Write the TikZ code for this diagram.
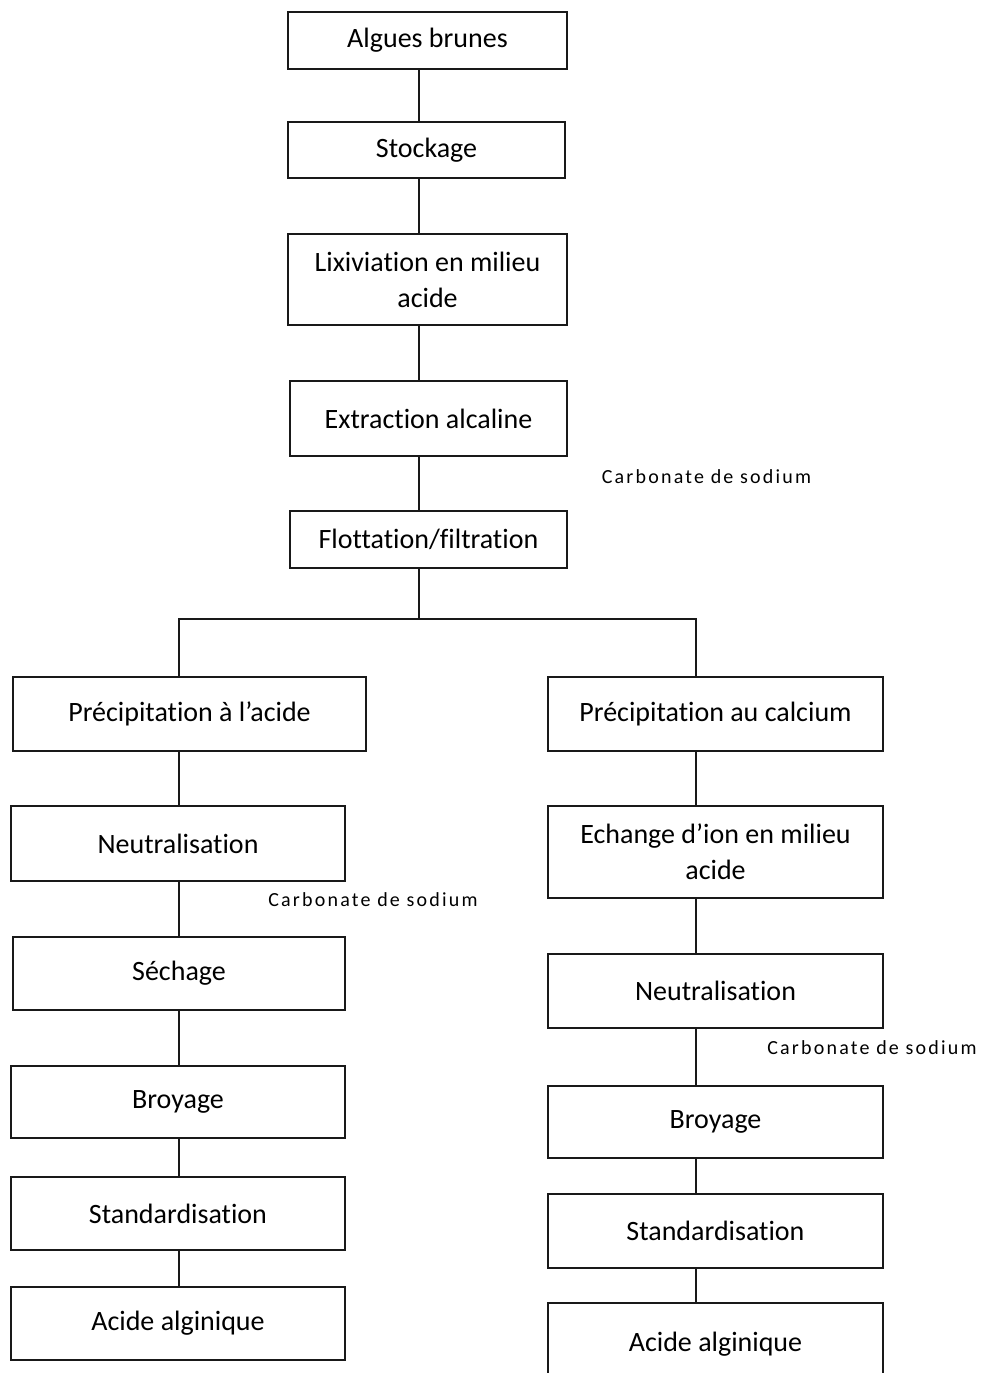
\documentclass[tikz,border=0pt]{standalone}
\usepackage{fontspec}
\setmainfont{Carlito}[Ligatures={TeX,NoCommon}]
\newfontfamily\notefont[LetterSpace=11,Ligatures={NoCommon}]{Carlito}

\begin{document}
\begin{tikzpicture}[x=0.5pt,y=-0.5pt,
  box/.style={draw=black!90,line width=1.2pt,align=center,inner sep=0pt,font=\fontsize{14}{18}\selectfont},
  link/.style={draw=black!90,line width=1.1pt},
  note/.style={font=\notefont\fontsize{10}{12}\selectfont,inner sep=0pt}]
\useasboundingbox (0,0) rectangle (982,1373);
% tronc commun
\node[box,minimum width=139.5pt,minimum height=28.5pt] (algues) at (427.5,40.5) {Algues brunes};
\node[box,minimum width=138.5pt,minimum height=28pt] (stock) at (426.5,150) {Stockage};
\node[box,minimum width=139.5pt,minimum height=45.5pt] (lixi) at (427.5,279.5) {Lixiviation en milieu\\acide};
\node[box,minimum width=138.5pt,minimum height=37.5pt] (extr) at (428.5,418.5) {Extraction alcaline};
\node[box,minimum width=138.5pt,minimum height=28.5pt] (flott) at (428.5,539.5) {Flottation/filtration};
\node[note] (carb1) at (706.5,477) {Carbonate de sodium};
% voie acide
\node[box,minimum width=176.5pt,minimum height=37pt] (pacide) at (189.5,714) {Précipitation à l’acide};
\node[box,minimum width=167pt,minimum height=37.5pt] (neutL) at (178,843.5) {Neutralisation};
\node[note] (carb2) at (373,900) {Carbonate de sodium};
\node[box,minimum width=166pt,minimum height=36.5pt] (sechL) at (179,973.5) {Séchage};
\node[box,minimum width=167pt,minimum height=36pt] (broyL) at (178,1102) {Broyage};
\node[box,minimum width=167pt,minimum height=36.5pt] (stdL) at (178,1213.5) {Standardisation};
\node[box,minimum width=167pt,minimum height=36.5pt] (acL) at (178,1323.5) {Acide alginique};
% voie calcium
\node[box,minimum width=167.5pt,minimum height=37pt] (pcal) at (715.5,714) {Précipitation au calcium};
\node[box,minimum width=167.5pt,minimum height=46pt] (ech) at (715.5,852) {Echange d’ion en milieu\\acide};
\node[box,minimum width=167.5pt,minimum height=37pt] (neutR) at (715.5,991) {Neutralisation};
\node[note] (carb3) at (872,1048) {Carbonate de sodium};
\node[box,minimum width=167.5pt,minimum height=36pt] (broyR) at (715.5,1122) {Broyage};
\node[box,minimum width=167.5pt,minimum height=37pt] (stdR) at (715.5,1231) {Standardisation};
\node[box,minimum width=167.5pt,minimum height=41pt] (acR) at (715.5,1344) {Acide alginique};
% liaisons
\coordinate (spine) at (419,0);
\coordinate (splitL) at (179,619);
\coordinate (splitR) at (696,619);
\foreach \a/\b in {algues/stock,stock/lixi,lixi/extr,extr/flott}
  \draw[link] (\a.south -| spine) -- (\b.north -| spine);
\draw[link] (flott.south -| spine) -- (spine |- splitL);
\draw[link] (pacide.north -| splitL) -- (splitL) -- (splitR) -- (pcal.north -| splitR);
\foreach \a/\b in {pacide/neutL,neutL/sechL,sechL/broyL,broyL/stdL,stdL/acL}
  \draw[link] (\a.south -| splitL) -- (\b.north -| splitL);
\foreach \a/\b in {pcal/ech,ech/neutR,neutR/broyR,broyR/stdR,stdR/acR}
  \draw[link] (\a.south -| splitR) -- (\b.north -| splitR);
\end{tikzpicture}
\end{document}
